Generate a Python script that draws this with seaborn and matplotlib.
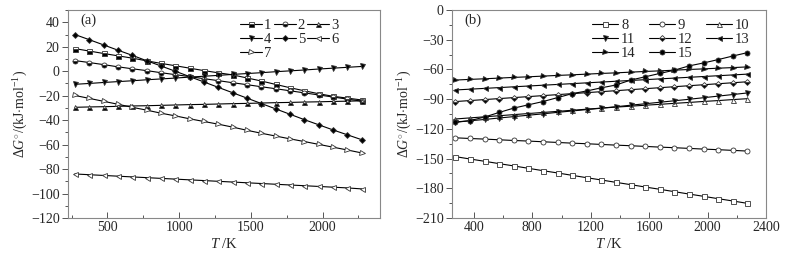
import matplotlib
matplotlib.use("Agg")
import matplotlib.pyplot as plt
import seaborn as sns
import pandas as pd
from matplotlib.ticker import MultipleLocator

# ── Data ──────────────────────────────────────────────────────────────────────
T = [273, 373, 473, 573, 673, 773, 873, 973, 1073, 1173, 1273,
     1373, 1473, 1573, 1673, 1773, 1873, 1973, 2073, 2173, 2273]

# panel (a)
g1 = [18.5, 16.5, 14.5, 12.6, 10.7, 8.5, 6.4, 4.5, 2.5, 0.5, -1.3,
      -3.0, -5.5, -8.0, -10.8, -13.5, -16.0, -18.4, -20.5, -22.0, -23.5]
g2 = [8.7, 7.1, 5.4, 3.6, 2.0, 0.5, -1.2, -2.8, -4.4, -6.1, -7.7,
      -9.4, -11.0, -12.7, -14.3, -16.0, -17.7, -19.4, -21.1, -22.8, -24.5]
g3 = [-29.5, -29.2, -29.0, -28.7, -28.4, -28.2, -27.9, -27.6, -27.3, -27.1, -26.8,
      -26.5, -26.3, -26.0, -25.7, -25.5, -25.2, -25.0, -24.7, -24.5, -24.2]
g4 = [-10.7, -10.0, -9.2, -8.5, -7.8, -7.0, -6.3, -5.6, -4.8, -4.1, -3.4,
      -2.6, -1.9, -1.2, -0.4, 0.3, 1.0, 1.8, 2.5, 3.2, 3.9]
g5 = [30.0, 25.8, 21.5, 17.2, 13.0, 8.6, 4.3, 0.0, -4.4, -8.8, -13.2,
      -17.6, -22.0, -26.4, -30.8, -35.2, -39.6, -43.8, -48.0, -52.0, -56.0]
g6 = [-84.0, -84.6, -85.2, -85.8, -86.4, -87.0, -87.6, -88.2, -88.8, -89.4, -90.0,
      -90.6, -91.2, -91.8, -92.4, -93.0, -93.6, -94.2, -94.8, -95.4, -96.2]
g7 = [-19.8, -22.2, -24.6, -27.0, -29.5, -31.8, -34.3, -36.5, -38.9, -41.1, -43.3,
      -45.7, -48.3, -50.7, -53.0, -55.3, -57.5, -59.8, -62.1, -64.4, -66.8]

# panel (b)
g8 = [-148.0, -150.4, -152.7, -155.1, -157.4, -159.8, -162.2, -164.5, -166.9, -169.3, -171.6,
      -174.0, -176.3, -178.7, -181.0, -183.4, -185.8, -188.1, -190.5, -192.8, -195.2]
g9 = [-129.0, -129.7, -130.3, -131.0, -131.7, -132.3, -133.0, -133.7, -134.4, -135.0, -135.7,
      -136.4, -137.0, -137.7, -138.4, -139.0, -139.7, -140.4, -141.0, -141.7, -142.4]
g10 = [-110.0, -108.9, -107.8, -106.7, -105.6, -104.5, -103.4, -102.3, -101.2, -100.1, -99.0,
       -98.0, -97.1, -96.1, -95.2, -94.2, -93.3, -92.3, -91.4, -90.4, -89.5]
g11 = [-113.0, -111.8, -110.5, -109.0, -107.6, -106.2, -104.8, -103.3, -101.9, -100.5, -99.1,
       -97.6, -96.1, -94.6, -93.1, -91.6, -90.1, -88.5, -86.9, -85.3, -83.7]
g12 = [-92.4, -91.4, -90.4, -89.4, -88.4, -87.4, -86.4, -85.4, -84.4, -83.4, -82.4,
       -81.4, -80.4, -79.4, -78.4, -77.4, -76.4, -75.4, -74.4, -73.4, -72.4]
g13 = [-80.7, -79.9, -79.1, -78.3, -77.5, -76.7, -75.9, -75.1, -74.3, -73.5, -72.7,
       -71.9, -71.1, -70.3, -69.5, -68.7, -67.9, -67.1, -66.3, -65.5, -64.7]
g14 = [-70.7, -70.0, -69.4, -68.7, -68.0, -67.4, -66.7, -66.0, -65.4, -64.7, -64.0,
       -63.4, -62.7, -62.0, -61.4, -60.7, -60.0, -59.4, -58.7, -58.1, -57.4]
g15 = [-113.4, -111.7, -108.0, -103.4, -99.0, -95.7, -92.4, -88.4, -84.4, -81.7, -78.5,
       -75.7, -70.7, -67.4, -64.0, -60.7, -56.4, -53.4, -50.0, -46.4, -43.0]

# (label, values, marker, fill)  fill: "full" black, "none" open, "bottom" half
series_a = [("1", g1, "s", "bottom"), ("2", g2, "o", "bottom"), ("3", g3, "^", "bottom"),
            ("4", g4, "v", "full"), ("5", g5, "D", "full"), ("6", g6, "<", "none"),
            ("7", g7, ">", "none")]
series_b = [("8", g8, "s", "none"), ("9", g9, "o", "none"), ("10", g10, "^", "none"),
            ("11", g11, "v", "full"), ("12", g12, "D", "bottom"), ("13", g13, "<", "full"),
            ("14", g14, ">", "full"), ("15", g15, "o", "full")]

# ── Style ─────────────────────────────────────────────────────────────────────
sns.set_style("ticks")
plt.rcParams["font.family"] = ["Liberation Serif", "DejaVu Serif"]
plt.rcParams["mathtext.fontset"] = "custom"
plt.rcParams["mathtext.rm"] = "Liberation Serif"
plt.rcParams["mathtext.it"] = "Liberation Serif:italic"
plt.rcParams["font.size"] = 10

fig = plt.figure(figsize=(7.87, 2.58), dpi=100)
ax_a = fig.add_axes([0.0864, 0.155, 0.3964, 0.806])
ax_b = fig.add_axes([0.5743, 0.155, 0.399, 0.806])


def draw(ax, series):
    handles = {}
    for lab, vals, mk, fill in series:
        df = pd.DataFrame({"T": T, "G": vals})
        kw = dict(marker=mk, markersize=3.6 if mk != "D" else 3.0,
                  markeredgecolor="#333333", markeredgewidth=0.6)
        if fill == "full":
            kw.update(markerfacecolor="black")
        elif fill == "none":
            kw.update(markerfacecolor="white")
        else:
            kw.update(fillstyle="bottom", markerfacecolor="black",
                      markerfacecoloralt="white")
        sns.lineplot(data=df, x="T", y="G", ax=ax, color="black", linewidth=0.8,
                     label=lab, legend=False, **kw)
        handles[lab] = ax.get_lines()[-1]
    return handles


def style(ax, xlim, ylim, xmaj, xmin, ymaj, ymin, tag):
    ax.set_xlim(*xlim)
    ax.set_ylim(*ylim)
    ax.xaxis.set_major_locator(MultipleLocator(xmaj))
    ax.xaxis.set_minor_locator(MultipleLocator(xmin))
    ax.yaxis.set_major_locator(MultipleLocator(ymaj))
    ax.yaxis.set_minor_locator(MultipleLocator(ymin))
    ax.tick_params(axis="x", which="both", direction="in", color="#555555")
    ax.tick_params(axis="y", which="both", direction="out", color="#555555")
    ax.tick_params(which="major", length=4, width=0.7, labelsize=10, pad=2)
    ax.tick_params(which="minor", length=2.5, width=0.7)
    for sp in ax.spines.values():
        sp.set_visible(True)
        sp.set_color("#888888")
        sp.set_linewidth(0.8)
    ax.set_xlabel(r"$T$ /K", fontsize=10.5, labelpad=2)
    ax.set_ylabel(r"$\mathit{\Delta G}^{\circ}$/(kJ$\cdot$mol$^{-1}$)", fontsize=10, labelpad=1)
    ax.text(0.04, 0.95, tag, transform=ax.transAxes, ha="left", va="center", fontsize=10.5)


h = draw(ax_a, series_a)
style(ax_a, (225, 2400), (-120, 50), 500, 250, 20, 10, "(a)")
order = ["1", "4", "7", "2", "5", "3", "6"]
ax_a.legend([h[k] for k in order], order, ncol=3, frameon=False, loc="upper right",
            bbox_to_anchor=(0.91, 1.02), handlelength=1.5, handletextpad=0.15,
            columnspacing=0.15, labelspacing=0.05, fontsize=10.5)

h = draw(ax_b, series_b)
style(ax_b, (250, 2400), (-210, 0), 400, 200, 30, 15, "(b)")
order = ["8", "11", "14", "9", "12", "15", "10", "13"]
ax_b.legend([h[k] for k in order], order, ncol=3, frameon=False, loc="upper right",
            bbox_to_anchor=(0.99, 1.02), handlelength=1.8, handletextpad=0.2,
            columnspacing=0.9, labelspacing=0.05, fontsize=10.5)

fig.savefig("out.png", dpi=100)
